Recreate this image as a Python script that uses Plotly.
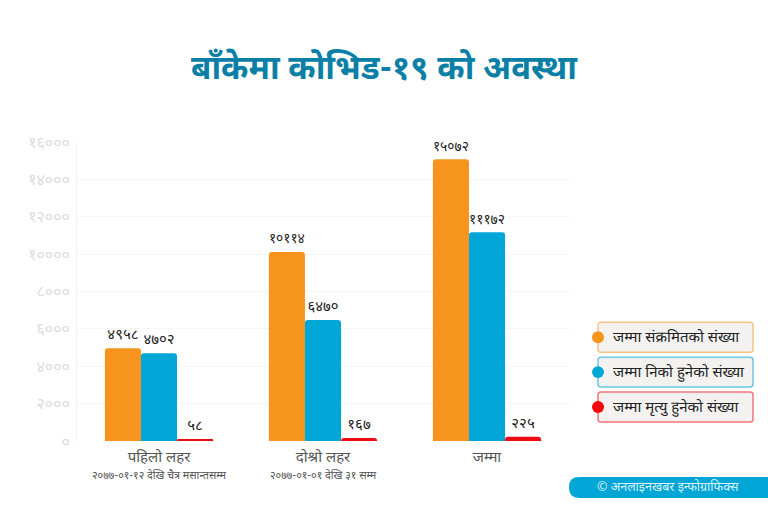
import plotly.graph_objects as go

W, H = 768, 512
L, R, T, B = 77, 569, 141.5, 441

categories = ["पहिलो लहर", "दोश्रो लहर", "जम्मा"]
subtitles = ["२०७७-०१-१२ देखि चैत्र मसान्तसम्म", "२०७७-०१-०१ देखि ३१ सम्म"]
series_names = ["जम्मा संक्रमितको संख्या", "जम्मा निको हुनेको संख्या", "जम्मा मृत्यु हुनेको संख्या"]
infected = [4958, 10114, 15072]
recovered = [4702, 6470, 11172]
deaths = [58, 167, 225]
infected_labels = ["४९५८", "१०११४", "१५०७२"]
recovered_labels = ["४७०२", "६४७०", "१११७२"]
deaths_labels = ["५८", "१६७", "२२५"]
tick_values = [0, 2000, 4000, 6000, 8000, 10000, 12000, 14000, 16000]
tick_labels = ["०", "२०००", "४०००", "६०००", "८०००", "१००००", "१२०००", "१४०००", "१६०००"]
colors = ["#f7941d", "#00a6d6", "#ed0a14"]
borders = ["#f5c48a", "#6cc8e4", "#f2757b"]
dots = ["#f7941d", "#00a6d6", "#fb0007"]

FONT = "Noto Sans Devanagari, Lohit Devanagari, Mukta, Noto Sans, sans-serif"

fig = go.Figure()
for name, vals, labs, col in zip(
    series_names, [infected, recovered, deaths],
    [infected_labels, recovered_labels, deaths_labels], colors
):
    fig.add_bar(
        x=categories, y=vals, name=name, marker_color=col, marker_line_width=0,
        text=labs, textposition="outside", cliponaxis=False,
        textfont=dict(size=15, color="#222222", family=FONT),
    )


def px(x):
    return (x - L) / (R - L)


def py(y):
    return (B - y) / (B - T)


def rrect(x0, y0, x1, y1, r):
    return (
        f"M{px(x0 + r)},{py(y0)} L{px(x1 - r)},{py(y0)} Q{px(x1)},{py(y0)} {px(x1)},{py(y0 + r)} "
        f"L{px(x1)},{py(y1 - r)} Q{px(x1)},{py(y1)} {px(x1 - r)},{py(y1)} "
        f"L{px(x0 + r)},{py(y1)} Q{px(x0)},{py(y1)} {px(x0)},{py(y1 - r)} "
        f"L{px(x0)},{py(y0 + r)} Q{px(x0)},{py(y0)} {px(x0 + r)},{py(y0)} Z"
    )


shapes = []
annotations = []
tops = [322, 357, 392]
for top, name, border, dot in zip(tops, series_names, borders, dots):
    shapes.append(dict(type="path", xref="paper", yref="paper", path=rrect(598, top, 753, top + 30, 3),
                       fillcolor="#f3f2f1", line=dict(color=border, width=1.5)))
    shapes.append(dict(type="circle", xref="paper", yref="paper",
                       x0=px(592), x1=px(604), y0=py(top + 21), y1=py(top + 9),
                       fillcolor=dot, line_width=0))
    annotations.append(dict(text=name, xref="paper", yref="paper", x=px(611), y=py(top + 16),
                            xanchor="left", yanchor="middle", showarrow=False,
                            font=dict(size=15, color="#222222", family=FONT)))

for cat, sub in zip(categories, subtitles):
    annotations.append(dict(text=sub, xref="x", yref="paper", x=cat, y=py(476),
                            xanchor="center", yanchor="middle", showarrow=False,
                            font=dict(size=10.8, color="#555555", family=FONT)))

shapes.append(dict(type="path", xref="paper", yref="paper", path=rrect(569, 477, 790, 498, 10),
                   fillcolor="#00a6d6", line_width=0))
annotations.append(dict(text="© अनलाइनखबर इन्फोग्राफिक्स", xref="paper", yref="paper",
                        x=px(668), y=py(488), xanchor="center", yanchor="middle", showarrow=False,
                        font=dict(size=12.5, color="#d8f1f8", family=FONT)))

fig.update_layout(
    width=W, height=H, autosize=False,
    margin=dict(l=L, r=W - R, t=T, b=H - B, pad=0),
    paper_bgcolor="white", plot_bgcolor="white",
    barmode="group", bargap=0.34, bargroupgap=0, barcornerradius=3,
    showlegend=False,
    title=dict(text="<b>बाँकेमा कोभिड-१९ को अवस्था</b>", x=384 / W, xanchor="center",
               y=1 - 67 / H, yanchor="middle", font=dict(size=33, color="#0b7fa6", family=FONT)),
    shapes=shapes, annotations=annotations,
    font=dict(family=FONT),
    xaxis=dict(tickmode="array", tickvals=categories, ticktext=categories, showgrid=False,
               showline=False, ticks="", ticklabelstandoff=5,
               tickfont=dict(size=15, color="#555555", family=FONT)),
    yaxis=dict(range=[0, 16000], tickmode="array", tickvals=tick_values, ticktext=tick_labels,
               gridcolor="#f6f6f6", gridwidth=1, showline=True, linecolor="#f3f3f3", linewidth=1,
               zeroline=False, ticks="", ticklabelstandoff=3,
               tickfont=dict(size=16, color="#dcdcdc", family=FONT)),
)
fig.write_html("out.html", config={"displayModeBar": False},
               post_script="document.body.style.margin='0';")
